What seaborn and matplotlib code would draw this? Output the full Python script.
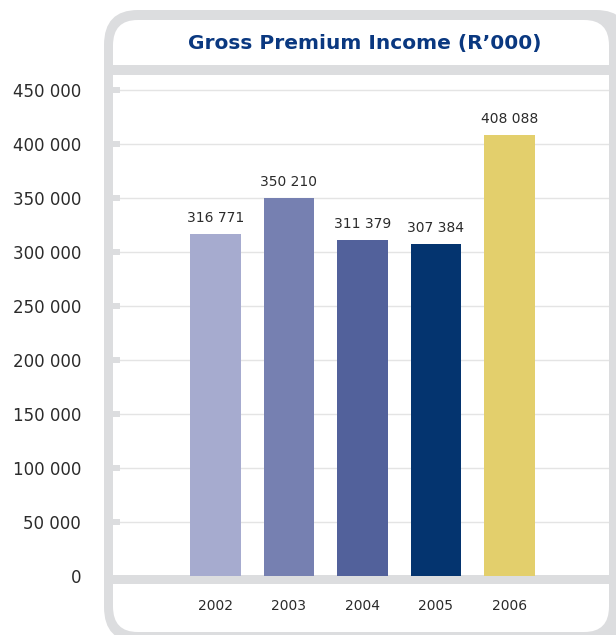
import numpy as np
import pandas as pd
import seaborn as sns
import matplotlib.pyplot as plt
from matplotlib.patches import FancyBboxPatch, Rectangle

# données
years = ['2002', '2003', '2004', '2005', '2006']
premium = [316771, 350210, 311379, 307384, 408088]
bar_colors = ['#A6ABCF', '#7680B1', '#52619B', '#04346F', '#E3CF6C']
y_ticks = [0, 50000, 100000, 150000, 200000, 250000, 300000, 350000, 400000, 450000]

W, H = 616, 635
frame_grey = '#DCDDDF'
grid_grey = '#E4E4E4'
txt = '#2B2B2B'


def fx(px):
    return px / W


def fy(py):
    return 1 - py / H


def fmt(v):
    return f'{v:,}'.replace(',', ' ')


sns.set_style('white')
plt.rcParams['font.family'] = ['DejaVu Sans']

fig = plt.figure(figsize=(W / 100, H / 100), dpi=100)

# cadre arrondi
outer = FancyBboxPatch((fx(104), fy(642)), fx(526), fy(10) - fy(642),
                       boxstyle='round,pad=0,rounding_size=0.055',
                       transform=fig.transFigure, facecolor=frame_grey,
                       edgecolor='none', zorder=0)
fig.patches.append(outer)
inner = FancyBboxPatch((fx(113), fy(632)), fx(496), fy(20) - fy(632),
                       boxstyle='round,pad=0,rounding_size=0.04',
                       transform=fig.transFigure, facecolor='white',
                       edgecolor='none', zorder=0.5)
fig.patches.append(inner)
# bandes grises (sous le titre et ligne de base)
for top, bot in [(65, 75), (575, 584)]:
    fig.patches.append(Rectangle((fx(104), fy(bot)), fx(512), fy(top) - fy(bot),
                                 transform=fig.transFigure, facecolor=frame_grey,
                                 edgecolor='none', zorder=1))

fig.text(fx(365), fy(43), "Gross Premium Income (R\u2019000)", ha='center', va='center',
         fontsize=14.5, fontweight='bold', color='#0A3880')

# axes: bas = 576 px, haut = 75 px
ax = fig.add_axes([fx(113), fy(576), fx(609) - fx(113), fy(75) - fy(576)])
ax.set_zorder(2)
ax.patch.set_alpha(0)

df = pd.DataFrame({'year': years, 'premium': premium})
sns.barplot(data=df, x='year', y='premium', hue='year', palette=bar_colors,
            legend=False, width=0.69, saturation=1, linewidth=0, ax=ax, zorder=3)

ymax = 450000 + 15 / 54 * 50000
ax.set_ylim(0, ymax)
ax.set_xlim((113 - 215.5) / 73.5, (609 - 215.5) / 73.5)

for v in y_ticks[1:]:
    ax.axhline(v, color=grid_grey, lw=1, zorder=1)
    ax.add_patch(Rectangle((ax.get_xlim()[0], v - 3 / 54 * 50000), 7 / 73.5, 6 / 54 * 50000,
                           facecolor=frame_grey, edgecolor='none', zorder=2))

for i, v in enumerate(premium):
    ax.text(i, v + 9 / 54 * 50000, fmt(v), ha='center', va='bottom',
            fontsize=10, color=txt)

ax.set_yticks(y_ticks)
ax.set_yticklabels([fmt(v) for v in y_ticks], fontsize=12, color=txt)
ax.tick_params(axis='y', length=0, pad=(113 - 81) * 0.72)
ax.tick_params(axis='x', length=0, pad=23 * 0.72, labelsize=10, labelcolor=txt)
ax.set_xlabel('')
ax.set_ylabel('')
for s in ax.spines.values():
    s.set_visible(False)

fig.savefig('out.png', dpi=100)
